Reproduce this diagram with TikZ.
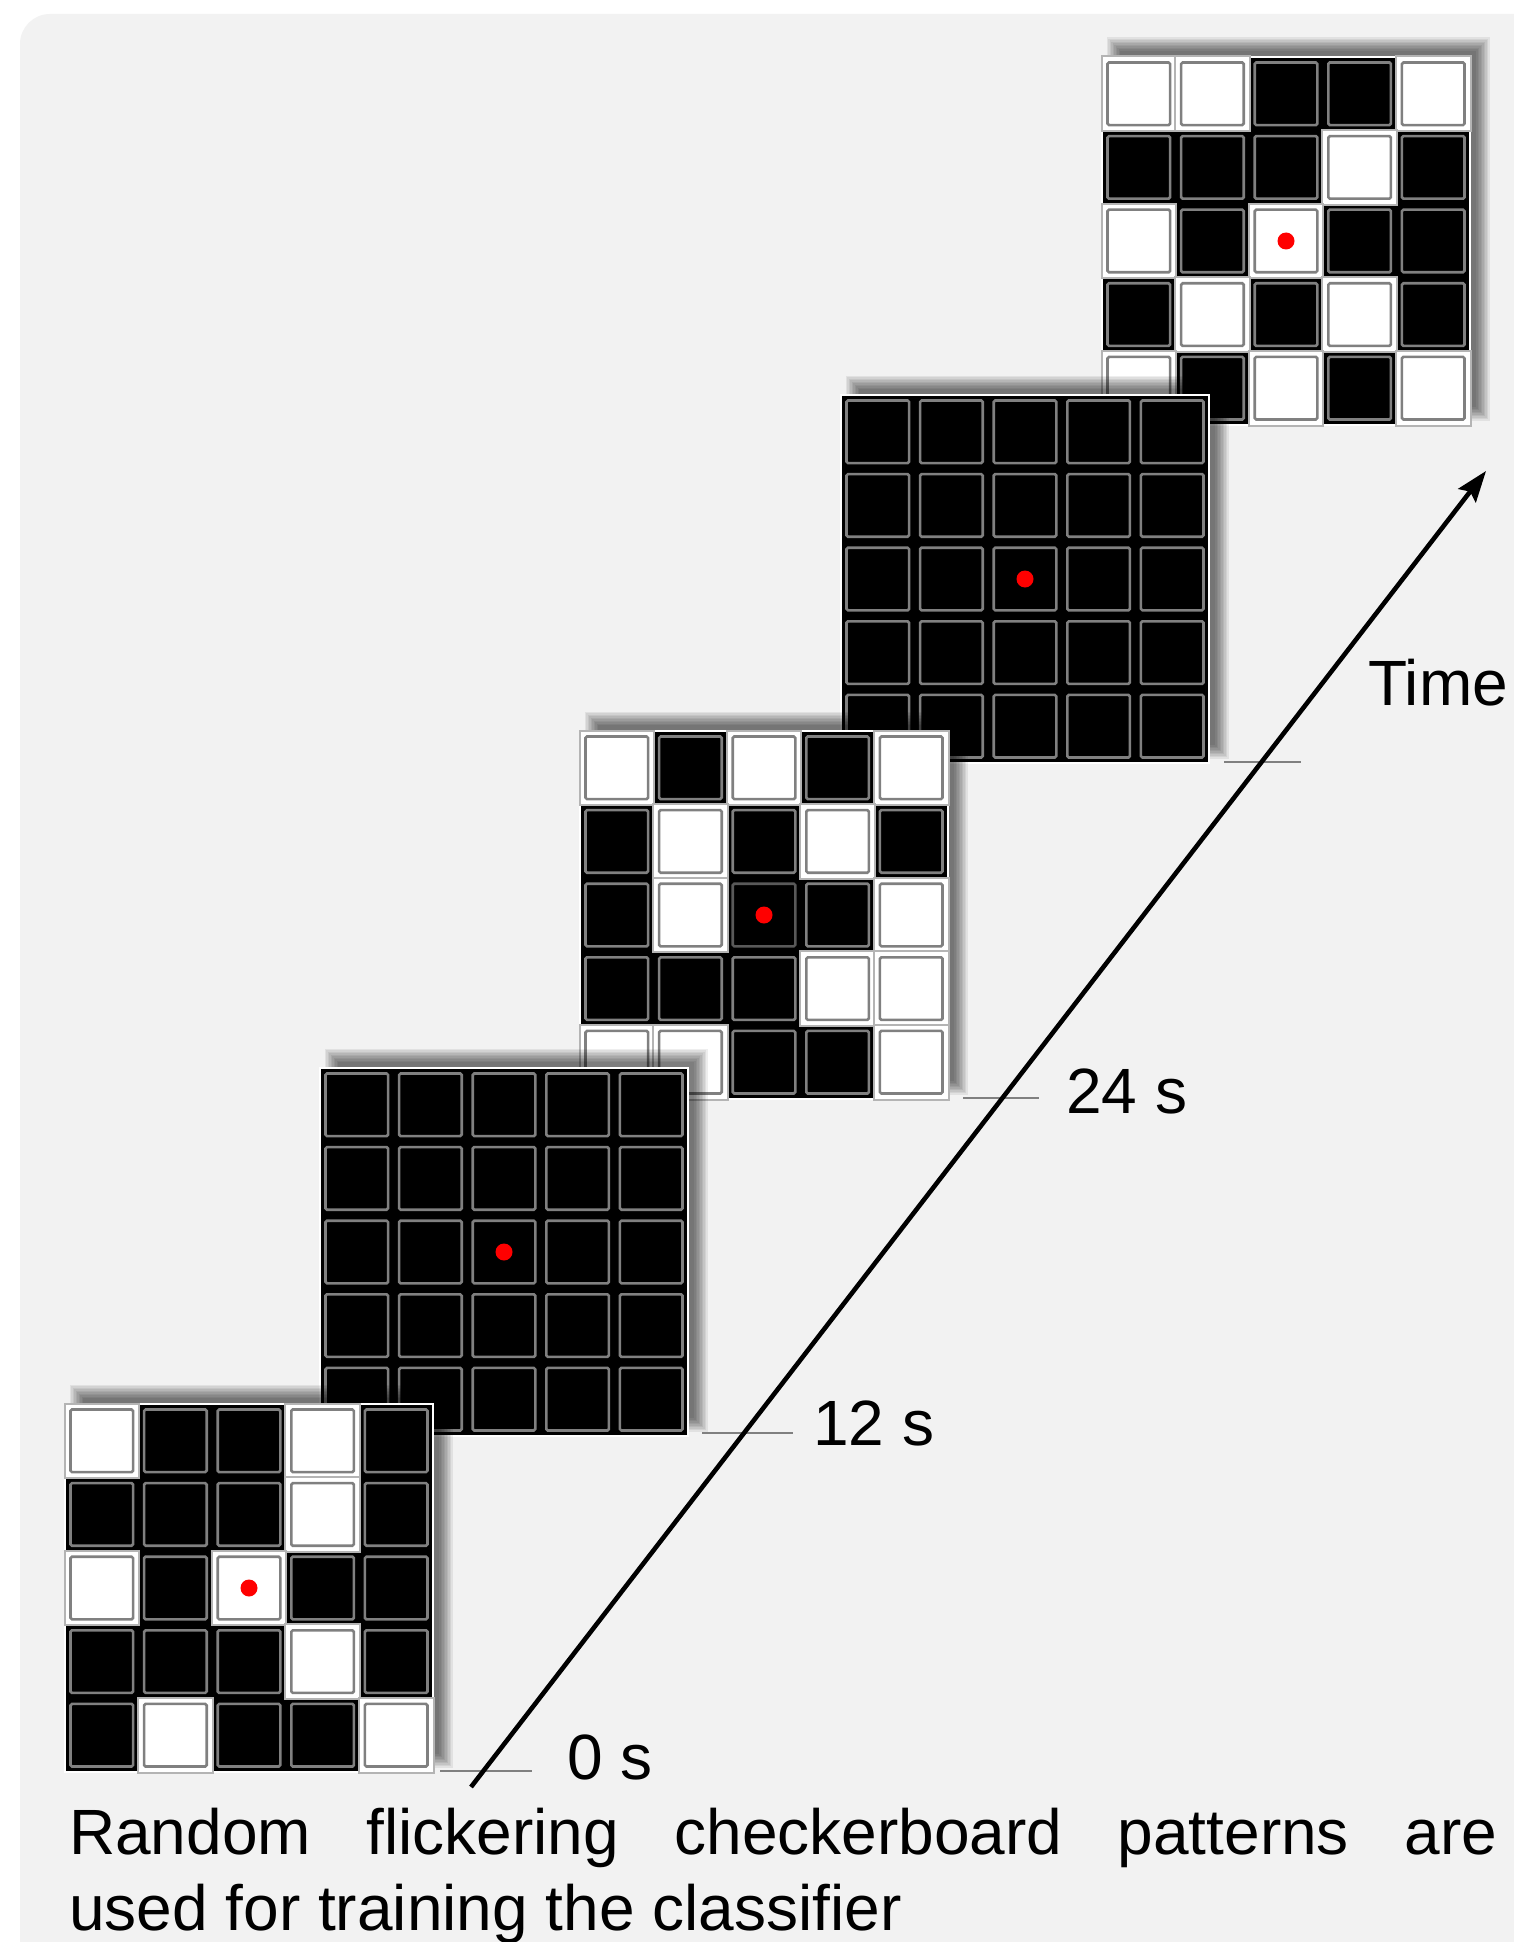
\documentclass[tikz,border=0pt]{standalone}
\usepackage{fontspec}
\setmainfont{Liberation Sans}
\usetikzlibrary{arrows.meta}
\definecolor{bg}{RGB}{242,242,242}
\definecolor{cellgray}{RGB}{128,128,128}
\definecolor{whiteedge}{RGB}{180,180,180}
\definecolor{tickgray}{RGB}{128,128,128}
\definecolor{dotred}{RGB}{255,0,0}

\tikzset{
  lbl/.style={anchor=base west,inner sep=0pt,font=\fontsize{64pt}{76pt}\selectfont},
  tickline/.style={draw=tickgray,line width=2pt},
  timearrow/.style={draw=black,line width=4.6pt,-{Stealth[length=31pt,width=22pt,inset=5pt]}},
  innersq/.style={draw=cellgray,line width=2.6pt,rounded corners=1.5pt},
  whitecell/.style={fill=white,draw=whiteedge,line width=2pt},
}

% #1 x, #2 y (top-left), #3 pattern (1 = white), #4 colour of the centre cell's inner square
\newcommand\drawboard[4]{%
\begin{scope}[shift={(#1,#2)}]
  \foreach \e in {-6,-4.5,-3,-1.5,0,1.5,3,4.5,6,7.5}{
    \fill[black,opacity=0.066] (12-\e,-12-\e) rectangle (380+\e,356+\e);
  }
  \fill[black] (0,0) rectangle (368,368);
  \draw[white,line width=1.2pt] (0,0) rectangle (368,368);
  \foreach \v [count=\i from 0] in {#3}{
    \pgfmathtruncatemacro\rr{int(\i/5)}
    \pgfmathtruncatemacro\cc{mod(\i,5)}
    \ifnum\v=1
      \filldraw[whitecell] (\cc*73.6-0.5,\rr*73.6-0.5) rectangle ++(74.6,74.6);
    \fi
    \ifnum\i=12
      \draw[innersq,draw=#4] (\cc*73.6+5.5,\rr*73.6+5.5) rectangle ++(62.6,62.6);
    \else
      \draw[innersq] (\cc*73.6+5.5,\rr*73.6+5.5) rectangle ++(62.6,62.6);
    \fi
  }
  \fill[dotred] (184,184) circle (8.5);
\end{scope}}

\begin{document}
\begin{tikzpicture}[x=1pt,y=-1pt]
\useasboundingbox (0,0) rectangle (1514,1942);
\fill[white] (0,0) rectangle (1514,1942);
\fill[bg,rounded corners=30pt] (20,14) rectangle (1580,2010);

% boards, from the latest (top right) to the first (bottom left)
\drawboard{1102}{57}{1,1,0,0,1, 0,0,0,1,0, 1,0,1,0,0, 0,1,0,1,0, 1,0,1,0,1}{cellgray}
\drawboard{841}{395}{0,0,0,0,0, 0,0,0,0,0, 0,0,0,0,0, 0,0,0,0,0, 0,0,0,0,0}{cellgray}
\drawboard{580}{731}{1,0,1,0,1, 0,1,0,1,0, 0,1,0,0,1, 0,0,0,1,1, 1,1,0,0,1}{black!65}
\drawboard{320}{1068}{0,0,0,0,0, 0,0,0,0,0, 0,0,0,0,0, 0,0,0,0,0, 0,0,0,0,0}{cellgray}
\drawboard{65}{1404}{1,0,0,1,0, 0,0,0,1,0, 1,0,1,0,0, 0,0,0,1,0, 0,1,0,0,1}{cellgray}

% ticks
\coordinate (t0a) at (440,1771);  \coordinate (t0b) at (532,1771);
\coordinate (t1a) at (702,1433);  \coordinate (t1b) at (793,1433);
\coordinate (t2a) at (963,1098);  \coordinate (t2b) at (1039,1098);
\coordinate (t3a) at (1224,762);  \coordinate (t3b) at (1301,762);
\draw[tickline] (t0a) -- (t0b);
\draw[tickline] (t1a) -- (t1b);
\draw[tickline] (t2a) -- (t2b);
\draw[tickline] (t3a) -- (t3b);

% time arrow
\coordinate (tstart) at (471,1787);
\coordinate (tend) at (1486,471);
\draw[timearrow] (tstart) -- (tend);

% labels
\node[lbl] (l0) at (567,1779) {0 s};
\node[lbl] (l12) at (813,1445) {12 s};
\node[lbl] (l24) at (1066,1113) {24 s};
\node[lbl] (ltime) at (1368,705) {Time};

% caption
\node[lbl] (cap1) at (69,1854) {\hbox to 1428pt{Random\hfill flickering\hfill checkerboard\hfill patterns\hfill are}};
\node[lbl] (cap2) at (69,1930) {used for training the classifier};
\end{tikzpicture}
\end{document}
